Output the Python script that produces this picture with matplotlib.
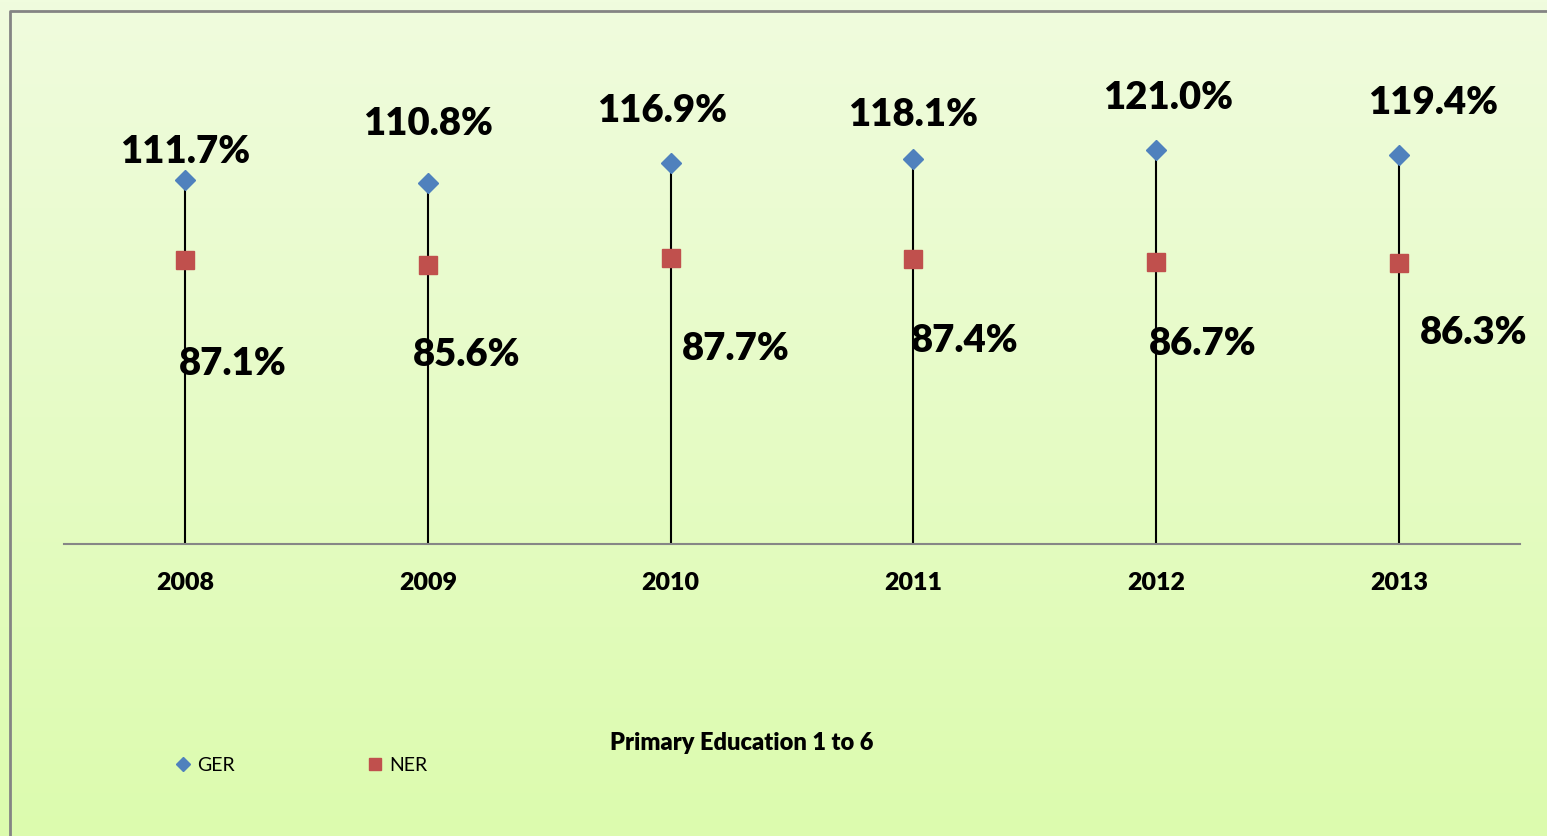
import numpy as np
import matplotlib.pyplot as plt
from matplotlib.lines import Line2D

# data
years = ['2008', '2009', '2010', '2011', '2012', '2013']
ger = [111.7, 110.8, 116.9, 118.1, 121.0, 119.4]
ner = [87.1, 85.6, 87.7, 87.4, 86.7, 86.3]

# hand-placed label offsets (pixels from the marker), as in the source chart
ger_off = [(0, 29), (0, 60), (-9, 53), (0, 45), (12, 53), (34, 53)]
ner_off = [(48, -103), (39, -89), (65, -90), (51, -81), (46, -81), (75, -69)]

plt.rcParams['font.family'] = ['Lato', 'DejaVu Sans']

fig = plt.figure(figsize=(15.47, 8.37), dpi=100)

# gradient background
bg = fig.add_axes([0, 0, 1, 1], zorder=-10)
grad = np.linspace(0, 1, 256).reshape(-1, 1)
top = np.array([0xF0, 0xFC, 0xDE]) / 255
bot = np.array([0xDC, 0xFB, 0xAE]) / 255
img = top + (bot - top) * grad[:, :, None]
bg.imshow(img, aspect='auto', extent=[0, 1, 0, 1])
bg.set_xlim(0, 1), bg.set_ylim(0, 1)
bg.axis('off')
# border (top/left visible, cut off at right and bottom)
bg.plot([10/1547, 10/1547, 1.01], [-0.01, 1 - 12/837, 1 - 12/837],
        color='#848484', lw=2, clip_on=False)

ax = fig.add_axes([63.6/1547, (837-545)/837, 1456.8/1547, 521/837])
ax.patch.set_alpha(0)
x = np.arange(len(years))

ax.vlines(x, 0, ger, color='black', lw=1.5, zorder=1)
ax.plot(x, ger, 'D', color='#4F81BD', ms=10, ls='none', zorder=3)
ax.plot(x, ner, 's', color='#C0504D', ms=13, ls='none', zorder=3)

for i in range(len(years)):
    ax.annotate(f"{ger[i]:.1f}%", (x[i], ger[i]), xytext=ger_off[i],
                textcoords='offset pixels', ha='center', va='center',
                fontsize=27.5, fontweight='heavy')
    ax.annotate(f"{ner[i]:.1f}%", (x[i], ner[i]), xytext=ner_off[i],
                textcoords='offset pixels', ha='center', va='center',
                fontsize=27.5, fontweight='heavy')

ax.set_xlim(-0.5, len(years) - 0.5)
ax.set_ylim(0, 160)
ax.set_xticks(x)
ax.set_xticklabels(years, fontsize=18, fontweight='heavy')
ax.tick_params(axis='x', length=0, pad=19.5)
ax.set_yticks([])
for s in ['top', 'right', 'left']:
    ax.spines[s].set_visible(False)
ax.spines['bottom'].set_color('#868686')
ax.spines['bottom'].set_linewidth(1.5)

fig.text(742/1547, 1 - 743/837, "Primary Education 1 to 6", ha='center',
         va='center', fontsize=17, fontweight='heavy')

handles = [Line2D([], [], marker='D', color='#4F81BD', ls='none', ms=7),
           Line2D([], [], marker='s', color='#C0504D', ls='none', ms=9)]
fig.legend(handles, ['GER', 'NER'], loc='center left',
           bbox_to_anchor=(158/1547, 1 - 766/837), ncol=2, frameon=False,
           fontsize=14, handlelength=0.8, handletextpad=0.3, columnspacing=6.85)

fig.savefig('out.png', dpi=100)
